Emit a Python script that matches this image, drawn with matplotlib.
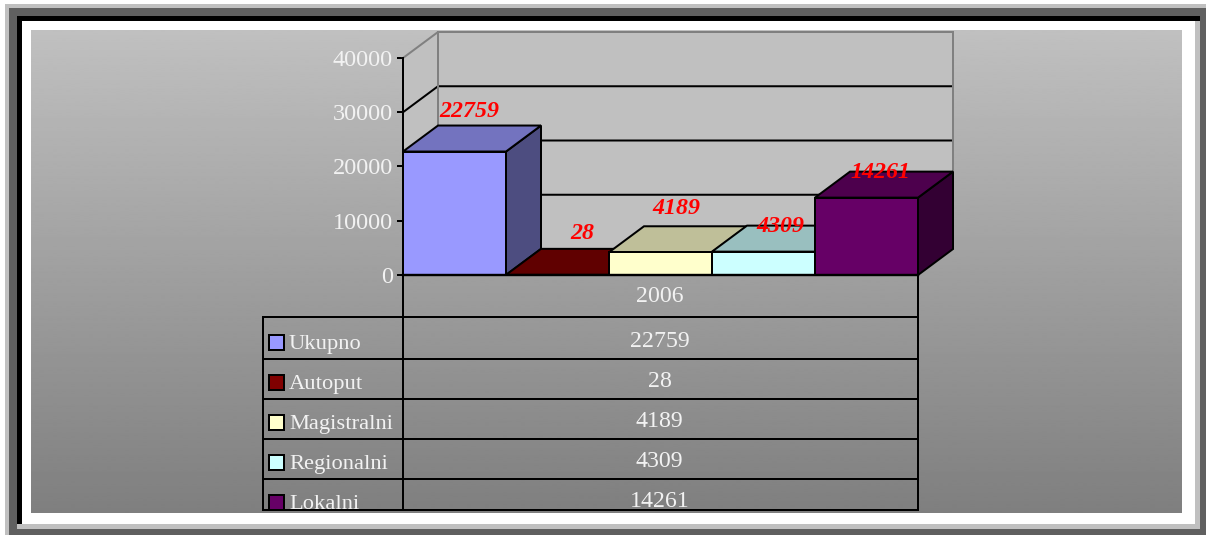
import matplotlib

matplotlib.use("Agg")
import matplotlib.pyplot as plt
import numpy as np
from matplotlib.patches import Rectangle

W, H = 1206, 535

series = ["Ukupno", "Autoput", "Magistralni", "Regionalni", "Lokalni"]
values = [22759, 28, 4189, 4309, 14261]
year = "2006"
y_ticks = [0, 10000, 20000, 30000, 40000]

front_colors = ["#9999ff", "#800000", "#ffffcc", "#ccffff", "#660066"]
top_colors = ["#7373bf", "#600000", "#bfbf99", "#99bfbf", "#4d004d"]
side_colors = ["#4d4d80", "#400000", "#808066", "#668080", "#330033"]

# pixel nudges of the red labels from the middle of each bar's front top
label_offsets = [(15, 35), (25, 36), (16, 38), (17, 20), (14, 20)]

SERIF = "Liberation Serif"
TXT = "#f2f2f2"
FS = 16.2
FS_NUM = 17.2


def px(p):
    return p * 72 / 100


fig = plt.figure(figsize=(W / 100, H / 100), dpi=100, facecolor="white")

# page furniture + table, in plain pixel coordinates
bg = fig.add_axes([0, 0, 1, 1])
bg.set_xlim(0, W)
bg.set_ylim(H, 0)
bg.axis("off")


def box(x0, y0, x1, y1, color, z=1):
    bg.add_patch(Rectangle((x0, y0), x1 - x0, y1 - y0, facecolor=color, edgecolor="none", zorder=z))


box(5, 4, W, H, "#c0c0c0", 1)
box(9, 8, W, H, "#606060", 1.1)
box(17, 16, 1200, 524, "black", 1.2)
box(17, 524, 1200, 529, "#c0c0c0", 1.3)
box(22, 21, 1200, 524, "#c0c0c0", 1.3)
box(22, 21, 1195, 524, "white", 1.4)

grad = np.linspace(192, 127, 256).reshape(-1, 1)
bg.imshow(grad, extent=(31, 1182, 513, 30), cmap="gray", vmin=0, vmax=255,
          aspect="auto", zorder=1.5, interpolation="bilinear")
bg.set_xlim(0, W)
bg.set_ylim(H, 0)

# table
LEFT, DIV, RIGHT = 263, 403, 918
row_lines = [317, 359, 399, 439, 479, 510]
lw = px(2)
for xx, top in [(DIV, 275), (RIGHT, 275), (LEFT, 317)]:
    bg.plot([xx, xx], [top, 510], color="black", lw=lw, zorder=3, solid_capstyle="butt")
for yy in row_lines:
    bg.plot([LEFT, RIGHT], [yy, yy], color="black", lw=lw, zorder=3)

mid = (DIV + RIGHT) / 2 - 1
bg.text(mid, 302, year, ha="center", va="baseline", color=TXT, family=SERIF, fontsize=FS_NUM, zorder=4)
for i, (name, val, col) in enumerate(zip(series, values, front_colors)):
    base = 349 + 40 * i
    key_top = 335 + 40 * i
    bg.add_patch(Rectangle((269, key_top), 15, 14.5, facecolor=col, edgecolor="black",
                           linewidth=lw, zorder=4))
    bg.text(289, base, name, ha="left", va="baseline", color=TXT, family=SERIF, fontsize=FS, zorder=4)
    bg.text(mid, base - 2, str(val), ha="center", va="baseline", color=TXT, family=SERIF,
            fontsize=FS_NUM, zorder=4)

# chart axes: one unit of x is one bar, y is the real value scale
x0, x1, y_bot, y_top = 403, 918, 275, 58
ax = fig.add_axes([x0 / W, 1 - y_bot / H, (x1 - x0) / W, (y_bot - y_top) / H])
ax.patch.set_alpha(0)
ax.set_xlim(0, len(values))
ax.set_ylim(0, 40000)
for s in ["top", "right", "bottom"]:
    ax.spines[s].set_visible(False)
ax.spines["left"].set_linewidth(lw)
ax.set_xticks([])
ax.set_yticks(y_ticks)
ax.set_yticklabels([str(t) for t in y_ticks], family=SERIF, fontsize=FS_NUM + 0.3, color=TXT)
ax.tick_params(axis="y", length=px(6), width=lw, pad=px(4), color="black")

DX = 35 / 103  # depth offset, in bar widths
DY = 26 / 217 * 40000  # depth offset, in value units
GREY = "#808080"

# walls
ax.fill([0, DX, DX, 0], [0, DY, 40000 + DY, 40000], color="#c0c0c0", lw=0, clip_on=False, zorder=1)
ax.fill([DX, 5 + DX, 5 + DX, DX], [DY, DY, 40000 + DY, 40000 + DY], color="#c0c0c0", lw=0,
        clip_on=False, zorder=1)
for t in y_ticks[1:]:
    col = GREY if t == 40000 else "black"
    ax.plot([0, DX, 5 + DX], [t, t + DY, t + DY], color=col, lw=lw, clip_on=False, zorder=2,
            solid_joinstyle="miter")
ax.plot([DX, DX], [DY, 40000 + DY], color=GREY, lw=lw, clip_on=False, zorder=2)
ax.plot([5 + DX, 5 + DX], [DY, 40000 + DY], color=GREY, lw=lw, clip_on=False, zorder=2)

# bars, left to right so each front hides the previous side
for i, v in enumerate(values):
    z = 3 + i * 0.1
    edge = dict(edgecolor="black", linewidth=lw, clip_on=False, zorder=z, joinstyle="miter")
    ax.fill([i + 1, i + 1 + DX, i + 1 + DX, i + 1], [0, DY, v + DY, v], facecolor=side_colors[i], **edge)
    ax.fill([i, i + DX, i + 1 + DX, i + 1], [v, v + DY, v + DY, v], facecolor=top_colors[i], **edge)
    ax.fill([i, i + 1, i + 1, i], [0, 0, v, v], facecolor=front_colors[i], **edge)

ax.plot([0, 5], [0, 0], color="black", lw=px(2.4), clip_on=False, zorder=4)

for i, v in enumerate(values):
    ax.annotate(str(v), xy=(i + 0.5, v), xytext=label_offsets[i], textcoords="offset pixels",
                ha="center", va="baseline", color="red", family=SERIF, fontsize=FS_NUM,
                fontweight="bold", fontstyle="italic", annotation_clip=False, zorder=6)

fig.savefig("out.png", dpi=100)
plt.close(fig)
